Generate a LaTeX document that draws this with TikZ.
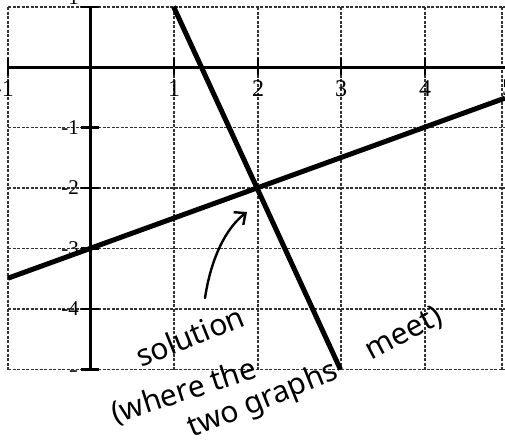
\documentclass[tikz,border=0pt]{standalone}
\usepackage{fontspec}
\setmainfont{Liberation Serif}
\newfontfamily\handfont{Noto Sans}
\usetikzlibrary{arrows.meta}
\begin{document}
\begin{tikzpicture}[x=1pt,y=-1pt,
  gridline/.style={black!80,line width=1.1pt,dash pattern=on 3pt off 1.5pt},
  axisline/.style={line width=3pt},
  graphline/.style={line width=5pt},
  tickmark/.style={line width=2.2pt},
  xlbl/.style={font=\fontsize{24}{24}\selectfont,inner sep=0pt,anchor=north},
  ylbl/.style={font=\fontsize{21}{21}\selectfont,inner sep=0pt,anchor=east},
  handtext/.style={font=\handfont\fontsize{30}{30}\selectfont,inner sep=0pt}]
\useasboundingbox[fill=white] (0,0) rectangle (505,445);
% grid
\foreach \x in {8,174,258,341,425,502} \draw[gridline] (\x,7) -- (\x,370);
\foreach \y in {7,127.5,188,248.5,309,369.5} \draw[gridline] (8,\y) -- (505,\y);
% axes
\draw[axisline] (8,67) -- (505,67);
\draw[axisline] (90,7) -- (90,370);
\foreach \x in {8,174,258,341,425} \draw[tickmark] (\x,58) -- (\x,75);
\foreach \y in {7,127.5,188,248.5,309,369.5} \draw[tickmark] (81,\y) -- (99,\y);
% x labels
\node[xlbl,anchor=north east] (xm1) at (14,80) {-1};
\node[xlbl] (x1) at (174,80) {1};
\node[xlbl] (x2) at (258,80) {2};
\node[xlbl] (x3) at (341,80) {3};
\node[xlbl] (x4) at (425,80) {4};
\node[xlbl] (x5) at (508,80) {5};
% y labels
\node[ylbl] (y1) at (79,-2) {1};
\node[ylbl] (ym1) at (79,128) {-1};
\node[ylbl] (ym2) at (79,188) {-2};
\node[ylbl] (ym3) at (79,248.5) {-3};
\node[ylbl] (ym4) at (79,309) {-4};
\begin{scope}
\clip (0,0) rectangle (505,371);
\node[ylbl] (ym5) at (79,378) {-5};
\end{scope}
% handwriting
\node[handtext,rotate=22] (t1) at (190,336) {solution};
\node[handtext,rotate=18] (t2) at (184,392) {(where the};
\node[handtext,rotate=22] (t3) at (263,401) {two graphs};
\node[handtext,rotate=28] (t4) at (404,334) {meet)};
% graphs
\draw[graphline] (173.5,6.5) -- (340.5,369.5);
\draw[graphline] (8,278.2) -- (505,98.1);
% arrow
\coordinate (astart) at (205,298);
\coordinate (atip) at (247,212);
\draw[line width=2.4pt,line cap=round,-{Straight Barb[length=9pt,width=16pt,line width=2.4pt]}]
  (astart) .. controls (211,258) and (226,228) .. (atip);
\end{tikzpicture}
\end{document}
